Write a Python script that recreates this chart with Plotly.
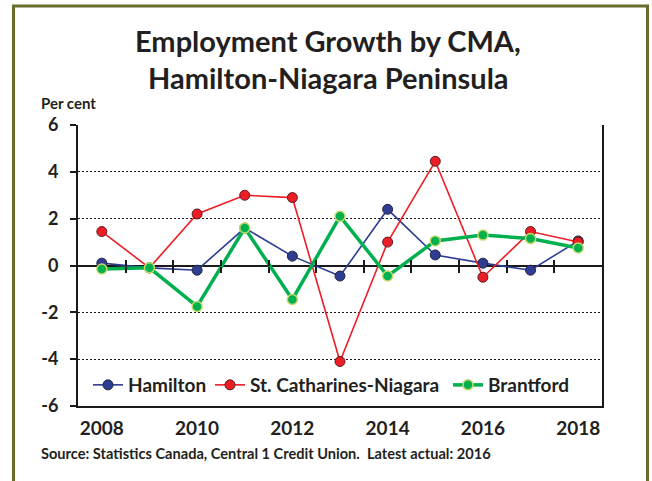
import plotly.graph_objects as go

# Employment growth by CMA, per cent
years = [2008, 2009, 2010, 2011, 2012, 2013, 2014, 2015, 2016, 2017, 2018]
hamilton = [0.1, -0.1, -0.2, 1.6, 0.4, -0.45, 2.4, 0.45, 0.1, -0.2, 1.05]
st_catharines = [1.45, -0.1, 2.2, 3.0, 2.9, -4.1, 1.0, 4.45, -0.5, 1.45, 1.0]
brantford = [-0.15, -0.1, -1.75, 1.6, -1.45, 2.1, -0.45, 1.05, 1.3, 1.15, 0.75]

xtick_labels = ["2008", "2010", "2012", "2014", "2016", "2018"]
ytick_vals = [-6, -4, -2, 0, 2, 4, 6]
ytick_labels = ["-6", "-4", "-2", "0", "2", "4", "6"]

W, H = 652, 481
L, R, T, B = 78, 50, 125, 75
pw, ph = W - L - R, H - T - B


def px_x(v):
    return (v - L) / pw


def px_y(v):
    return (H - B - v) / ph


FONT = "Lato"
TXT = "#231F20"
AX = "#1A1A1A"

fig = go.Figure()

fig.add_trace(go.Scatter(
    x=years, y=hamilton, name="Hamilton", mode="lines+markers",
    line=dict(color="#2E3D92", width=1.6),
    marker=dict(size=10, color="#2E3D92", line=dict(color="#232345", width=1)),
    legend="legend",
))
fig.add_trace(go.Scatter(
    x=years, y=st_catharines, name="St. Catharines-Niagara", mode="lines+markers",
    line=dict(color="#EE1C25", width=1.6),
    marker=dict(size=10, color="#EE1C25", line=dict(color="#5A1E1E", width=1)),
    legend="legend2",
))
fig.add_trace(go.Scatter(
    x=years, y=brantford, name="Brantford", mode="lines+markers",
    line=dict(color="#00B04F", width=3.5),
    marker=dict(size=10, color="#00B04F", line=dict(color="#C6D86A", width=1.5)),
    legend="legend3",
))
# helper traces so the mid-axis tick marks get drawn
for ax in ["x2", "x3"]:
    fig.add_trace(go.Scatter(x=years, y=hamilton, mode="none", xaxis=ax,
                             showlegend=False, hoverinfo="skip"))

mid_ticks = [y + 0.5 for y in years[:-1]]

fig.update_layout(
    width=W, height=H,
    margin=dict(l=L, r=R, t=T, b=B),
    paper_bgcolor="white", plot_bgcolor="white",
    font=dict(family=FONT, color=TXT),
    xaxis=dict(
        range=[2007.5, 2018.5], tickvals=years[::2], ticktext=xtick_labels,
        showgrid=False, zeroline=False, showline=True, linecolor=AX, linewidth=2,
        ticks="", ticklabelstandoff=4,
        tickfont=dict(size=19, family=FONT, weight="bold", color=TXT),
    ),
    xaxis2=dict(
        range=[2007.5, 2018.5], overlaying="x", anchor="free", position=0.5,
        tickvals=mid_ticks, ticks="outside", ticklen=6, tickwidth=1.5, tickcolor=AX,
        showticklabels=False, showgrid=False, zeroline=False, showline=False,
    ),
    xaxis3=dict(
        range=[2007.5, 2018.5], overlaying="x", anchor="free", position=0.5,
        tickvals=mid_ticks, ticks="inside", ticklen=6, tickwidth=1.5, tickcolor=AX,
        showticklabels=False, showgrid=False, zeroline=False, showline=False,
    ),
    yaxis=dict(
        range=[-6, 6], tickvals=ytick_vals, ticktext=ytick_labels,
        showgrid=True, gridcolor=AX, griddash="2px,2px", gridwidth=1.3,
        zeroline=True, zerolinecolor=AX, zerolinewidth=1.6,
        showline=True, mirror=True, linecolor=AX, linewidth=2,
        ticks="outside", ticklen=6, tickwidth=1.5, tickcolor=AX, ticklabelstandoff=8,
        tickfont=dict(size=18, family=FONT, weight="bold", color=TXT),
    ),
    showlegend=True,
)

leg_common = dict(orientation="h", yanchor="middle", xanchor="left", y=px_y(385),
                  bgcolor="rgba(0,0,0,0)", itemwidth=30,
                  font=dict(size=19, family=FONT, weight="bold", color=TXT))
fig.update_layout(
    legend=dict(x=px_x(88), **leg_common),
    legend2=dict(x=px_x(210), **leg_common),
    legend3=dict(x=px_x(448), **leg_common),
)

fig.add_annotation(text="Employment Growth by CMA,", xref="paper", yref="paper",
                   x=px_x(328), y=px_y(40), xanchor="center", yanchor="middle",
                   showarrow=False, font=dict(size=29, family=FONT, weight="bold", color=TXT))
fig.add_annotation(text="Hamilton-Niagara Peninsula", xref="paper", yref="paper",
                   x=px_x(328), y=px_y(77), xanchor="center", yanchor="middle",
                   showarrow=False, font=dict(size=29, family=FONT, weight="bold", color=TXT))
fig.add_annotation(text="Per cent", xref="paper", yref="paper",
                   x=px_x(39), y=px_y(103), xanchor="left", yanchor="middle",
                   showarrow=False, font=dict(size=15, family=FONT, weight="bold", color=TXT))
fig.add_annotation(text="Source: Statistics Canada, Central 1 Credit Union.  Latest actual: 2016",
                   xref="paper", yref="paper",
                   x=px_x(39), y=px_y(453), xanchor="left", yanchor="middle",
                   showarrow=False, font=dict(size=14.6, family=FONT, weight="bold", color=TXT))

# olive frame around the whole graphic (bottom edge runs off the image)
fig.add_shape(type="rect", xref="paper", yref="paper",
              x0=px_x(13.5), x1=px_x(647.5), y0=px_y(495), y1=px_y(6),
              line=dict(color="#6B6B2E", width=3), fillcolor="rgba(0,0,0,0)", layer="below")

fig.write_html("out.html", config={"displayModeBar": False},
               post_script="document.body.style.margin='0';")
